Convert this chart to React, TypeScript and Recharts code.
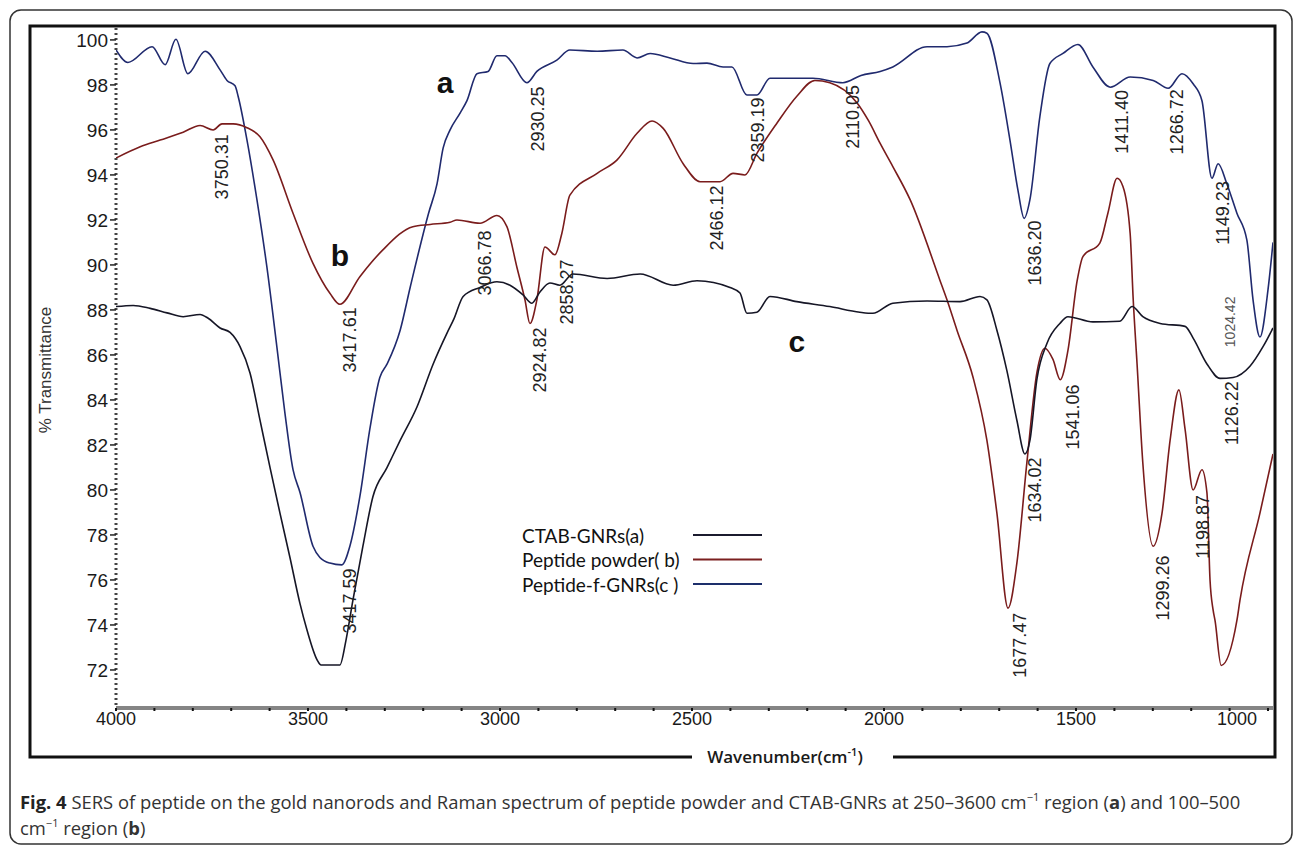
import { LineChart, Line, XAxis, YAxis, ReferenceDot } from 'recharts'

// spectra: [wavenumber cm-1, % transmittance]
const curveA: [number, number][] = [
  [4000, 99.56], [3969, 99.0], [3906, 99.7], [3872, 98.9], [3844, 100.03], [3813, 98.5],
  [3768, 99.5], [3729, 98.67], [3711, 98.2], [3690, 97.96], [3682, 97.5], [3659, 95.56],
  [3633, 92.9], [3607, 89.9], [3581, 86.35], [3560, 83.4], [3539, 80.9], [3521, 79.9],
  [3487, 77.5], [3469, 77.0], [3443, 76.75], [3412, 76.67], [3391, 77.5], [3365, 79.7],
  [3339, 82.7], [3313, 85.0], [3294, 85.6], [3260, 87.1], [3234, 89.0], [3186, 92.3],
  [3164, 93.6], [3148, 95.2], [3130, 96.0], [3104, 96.75], [3086, 97.3], [3060, 98.5],
  [3031, 98.6], [3008, 99.3], [2987, 99.3], [2969, 99.0], [2930, 98.1], [2904, 98.6],
  [2852, 99.1], [2818, 99.55], [2747, 99.5], [2680, 99.55], [2643, 99.2], [2609, 99.4],
  [2557, 99.2], [2497, 98.95], [2461, 98.97], [2419, 98.8], [2396, 98.8], [2357, 97.55],
  [2331, 97.55], [2297, 98.3], [2185, 98.3], [2107, 98.1], [2060, 98.42], [2010, 98.6],
  [1977, 98.8], [1888, 99.7], [1836, 99.7], [1784, 99.86], [1745, 100.36], [1732, 100.3],
  [1698, 98.1], [1672, 95.55], [1651, 93.3], [1635, 92.07], [1620, 92.9], [1594, 96.6],
  [1568, 98.95], [1534, 99.4], [1495, 99.8], [1456, 98.8], [1411, 97.9], [1359, 98.35],
  [1299, 98.2], [1260, 97.85], [1224, 98.5], [1195, 98.05], [1172, 97.3], [1146, 93.85],
  [1130, 94.5], [1107, 93.6], [1081, 92.3], [1055, 91.1], [1039, 88.45], [1021, 86.8],
  [1000, 88.9], [987, 91.0],
]

const curveB: [number, number][] = [
  [4000, 94.75], [3937, 95.25], [3885, 95.55], [3825, 95.9], [3781, 96.2], [3747, 96.0],
  [3724, 96.27], [3695, 96.27], [3659, 96.1], [3625, 95.7], [3591, 94.67], [3539, 92.3],
  [3487, 90.07], [3443, 88.74], [3417, 88.25], [3365, 89.48], [3305, 90.67], [3227, 91.7],
  [3182, 91.8], [3130, 91.9], [3112, 92.0], [3052, 91.85], [3008, 92.2], [2982, 91.7],
  [2956, 89.9], [2935, 88.45], [2922, 87.4], [2904, 88.45], [2883, 90.8], [2857, 90.45],
  [2839, 91.4], [2818, 93.1], [2747, 94.07], [2695, 94.67], [2643, 95.85], [2604, 96.4],
  [2575, 96.07], [2523, 94.5], [2479, 93.7], [2427, 93.7], [2393, 94.07], [2362, 94.0],
  [2331, 94.96], [2279, 96.3], [2227, 97.5], [2180, 98.2], [2141, 98.1], [2070, 97.2],
  [2040, 96.4], [2010, 95.4], [1977, 94.37], [1932, 92.9], [1854, 89.3], [1836, 88.45],
  [1810, 87.1], [1768, 85.0], [1732, 82.2], [1706, 78.97], [1677, 74.75], [1654, 76.75],
  [1628, 81.2], [1602, 85.2], [1581, 86.3], [1560, 85.8], [1541, 84.9], [1521, 86.2],
  [1497, 89.3], [1482, 90.37], [1438, 90.97], [1417, 92.3], [1393, 93.85], [1378, 93.5],
  [1359, 91.4], [1351, 88.45], [1341, 85.6], [1326, 81.2], [1299, 77.5], [1276, 78.97],
  [1255, 82.2], [1232, 84.45], [1216, 82.7], [1195, 80.0], [1172, 80.9], [1159, 79.87],
  [1151, 76.0], [1143, 74.67], [1138, 74.2], [1122, 72.2], [1081, 74.2], [1073, 75.1],
  [1021, 78.97], [987, 81.6],
]

const curveC: [number, number][] = [
  [4000, 88.15], [3955, 88.2], [3911, 88.07], [3867, 87.87], [3825, 87.7], [3781, 87.8],
  [3760, 87.63], [3729, 87.2], [3703, 87.0], [3677, 86.37], [3651, 85.2], [3625, 83.1],
  [3599, 81.0], [3573, 78.97], [3547, 77.0], [3521, 74.96], [3503, 73.8], [3476, 72.44],
  [3466, 72.22], [3417, 72.22], [3401, 73.33], [3383, 75.1], [3357, 77.5], [3331, 79.7],
  [3294, 81.0], [3260, 82.2], [3216, 83.7], [3174, 85.6], [3138, 86.97], [3120, 87.6],
  [3096, 88.6], [3052, 89.0], [3008, 89.25], [2974, 89.1], [2940, 88.67], [2917, 88.3],
  [2896, 88.8], [2870, 89.2], [2844, 89.1], [2810, 89.6], [2721, 89.4], [2635, 89.6],
  [2549, 89.1], [2487, 89.3], [2401, 89.0], [2375, 88.75], [2357, 87.85], [2331, 87.9],
  [2297, 88.6], [2227, 88.37], [2141, 88.15], [2063, 87.9], [2029, 87.85], [1977, 88.3],
  [1888, 88.4], [1802, 88.37], [1750, 88.6], [1732, 88.45], [1706, 87.1], [1680, 85.3],
  [1654, 83.1], [1633, 81.6], [1620, 82.2], [1602, 84.9], [1576, 86.5], [1542, 87.4],
  [1521, 87.7], [1456, 87.47], [1386, 87.5], [1354, 88.15], [1326, 87.7], [1281, 87.4],
  [1216, 87.27], [1195, 86.75], [1159, 85.6], [1125, 84.96], [1091, 85.0], [1047, 85.5],
  [1013, 86.37], [987, 87.2],
]

// peak labels: text and where its centre sits (wavenumber, %T)
const peaks = [
  { text: '3750.31', w: 3724, v: 94.36 },
  { text: '2930.25', w: 2901, v: 96.49 },
  { text: '2359.19', w: 2328, v: 96.0 },
  { text: '2110.05', w: 2081, v: 96.58 },
  { text: '2466.12', w: 2435, v: 92.09 },
  { text: '3066.78', w: 3039, v: 90.09 },
  { text: '2858.27', w: 2826, v: 88.8 },
  { text: '2924.82', w: 2896, v: 85.78 },
  { text: '3417.61', w: 3391, v: 86.67 },
  { text: '3417.59', w: 3391, v: 75.07 },
  { text: '1636.20', w: 1607, v: 90.53 },
  { text: '1411.40', w: 1380, v: 96.36 },
  { text: '1266.72', w: 1237, v: 96.36 },
  { text: '1149.23', w: 1117, v: 92.31 },
  { text: '1126.22', w: 1094, v: 83.42 },
  { text: '1541.06', w: 1508, v: 83.24 },
  { text: '1634.02', w: 1607, v: 80.0 },
  { text: '1299.26', w: 1273, v: 75.64 },
  { text: '1198.87', w: 1169, v: 78.36 },
  { text: '1677.47', w: 1646, v: 73.1 },
]
const smallPeak = { text: '1024.42', w: 1099, v: 87.47 }

const curveLetters = [
  { text: 'a', w: 3143, v: 98.09 },
  { text: 'b', w: 3417, v: 90.44 },
  { text: 'c', w: 2227, v: 86.58 },
]

const legendLabels = ['CTAB-GNRs(a)', 'Peptide powder( b)', 'Peptide-f-GNRs(c )']
const legendColors = ['#1b1b2e', '#7b1f1f', '#1d2f6b']

const xTicks = [4000, 3900, 3800, 3700, 3600, 3500, 3400, 3300, 3200, 3100, 3000, 2900, 2800, 2700, 2600, 2500,
  2400, 2300, 2200, 2100, 2000, 1900, 1800, 1700, 1600, 1500, 1400, 1300, 1200, 1100, 1000]
const yTicks = [72, 74, 76, 78, 80, 82, 84, 86, 88, 90, 92, 94, 96, 98, 100]

const toRows = (pts: [number, number][]) => pts.map(([w, v]) => ({ w, v }))

const XTick = (props: any) => {
  const { x, y, payload } = props
  const val = payload.value
  if (val % 500 !== 0) return <g />
  const dx = val === 1000 ? -31 : 0
  return (
    <text x={x + dx} y={y} dy={12} textAnchor="middle" fontFamily="'Liberation Sans Narrow', 'Liberation Sans'"
      fontSize={18} fill="#1a1a1a">
      {val}
    </text>
  )
}

const rotated = (text: string, size: number, fill: string) => (p: any) => (
  <text x={p.cx} y={p.cy} transform={`rotate(-90 ${p.cx} ${p.cy})`} textAnchor="middle" dominantBaseline="central"
    fontFamily="'Liberation Sans', Arial" fontSize={size} fill={fill}>
    {text}
  </text>
)

const letter = (text: string) => (p: any) => (
  <text x={p.cx} y={p.cy} textAnchor="middle" dominantBaseline="central" fontFamily="'Liberation Sans', Arial"
    fontWeight={700} fontSize={30} fill="#111">
    {text}
  </text>
)

export default function App() {
  return (
    <div style={{ position: 'absolute', left: 0, top: 0, width: 1295, height: 845, background: '#fff' }}>
      <svg width={1295} height={845} style={{ position: 'absolute', left: 0, top: 0 }}>
        <rect x={10} y={10} width={1282} height={834} rx={11} fill="none" stroke="#333" strokeWidth={1.5} />
        <path d="M 692 757 L 30 757 L 30 26 L 1275 26 L 1275 757 L 893 757" fill="none" stroke="#111" strokeWidth={3} />
        <text x={45} y={370} transform="rotate(-90 45 370)" textAnchor="middle" dominantBaseline="central"
          fontFamily="'Liberation Sans', Arial" fontSize={17} fill="#333">
          % Transmittance
        </text>
        <text x={785} y={763} textAnchor="middle" fontFamily="'Open Sans'" fontWeight={600} fontSize={17} fill="#1a1a1a">
          Wavenumber(cm<tspan dy={-7} fontSize={11}>-1</tspan><tspan dy={7}>)</tspan>
        </text>
        {legendLabels.map((t, i) => (
          <g key={t}>
            <text x={522} y={535 + i * 24.5} dominantBaseline="central" fontFamily="Lato" fontSize={19} fill="#111">{t}</text>
            <line x1={693} x2={762} y1={535 + i * 24.5} y2={535 + i * 24.5} stroke={legendColors[i]} strokeWidth={2.2} />
          </g>
        ))}
        <text x={20} y={809} fontFamily="'Open Sans'" fontSize={18.4} fill="#333">
          <tspan fontWeight={700} fill="#222">Fig. 4</tspan> SERS of peptide on the gold nanorods and Raman spectrum of peptide powder and CTAB-GNRs at 250–3600 cm<tspan dy={-8} fontSize={11}>−1</tspan><tspan dy={8}> region (</tspan><tspan fontWeight={700}>a</tspan>) and 100–500
        </text>
        <text x={20} y={835} fontFamily="'Open Sans'" fontSize={18.4} fill="#333">
          cm<tspan dy={-8} fontSize={11}>−1</tspan><tspan dy={8}> region (</tspan><tspan fontWeight={700}>b</tspan>)
        </text>
      </svg>
      <div style={{ position: 'absolute', left: 0, top: 0 }}>
        <LineChart width={1295} height={845} margin={{ top: 28, right: 22, bottom: 107, left: 56 }}>
          <XAxis dataKey="w" type="number" domain={[987, 4000]} reversed ticks={xTicks} interval={0}
            allowDataOverflow height={30} tick={<XTick />} tickSize={3}
            axisLine={{ stroke: '#858585', strokeWidth: 4 }} tickLine={{ stroke: '#111', strokeWidth: 2 }} />
          <YAxis type="number" domain={[70.31, 100.53]} ticks={yTicks} interval={0} allowDataOverflow width={60}
            tickSize={6} tickLine={{ stroke: '#222', strokeWidth: 1.5 }}
            axisLine={{ stroke: '#444', strokeWidth: 3, strokeDasharray: '2 3' }}
            tick={{ fontFamily: "'Liberation Sans Narrow', 'Liberation Sans'", fontSize: 19, fill: '#1a1a1a' }} />
          <Line data={toRows(curveA)} dataKey="v" type="monotone" stroke="#202a6e" strokeWidth={1.6} dot={false}
            isAnimationActive={false} />
          <Line data={toRows(curveB)} dataKey="v" type="monotone" stroke="#7a1c1c" strokeWidth={1.6} dot={false}
            isAnimationActive={false} />
          <Line data={toRows(curveC)} dataKey="v" type="monotone" stroke="#161626" strokeWidth={1.6} dot={false}
            isAnimationActive={false} />
          {peaks.map((p) => (
            <ReferenceDot key={p.text + p.v} x={p.w} y={p.v} r={0} shape={rotated(p.text, 18, '#222')} />
          ))}
          <ReferenceDot x={smallPeak.w} y={smallPeak.v} r={0} shape={rotated(smallPeak.text, 14, '#555')} />
          {curveLetters.map((l) => (
            <ReferenceDot key={l.text} x={l.w} y={l.v} r={0} shape={letter(l.text)} />
          ))}
        </LineChart>
      </div>
    </div>
  )
}
